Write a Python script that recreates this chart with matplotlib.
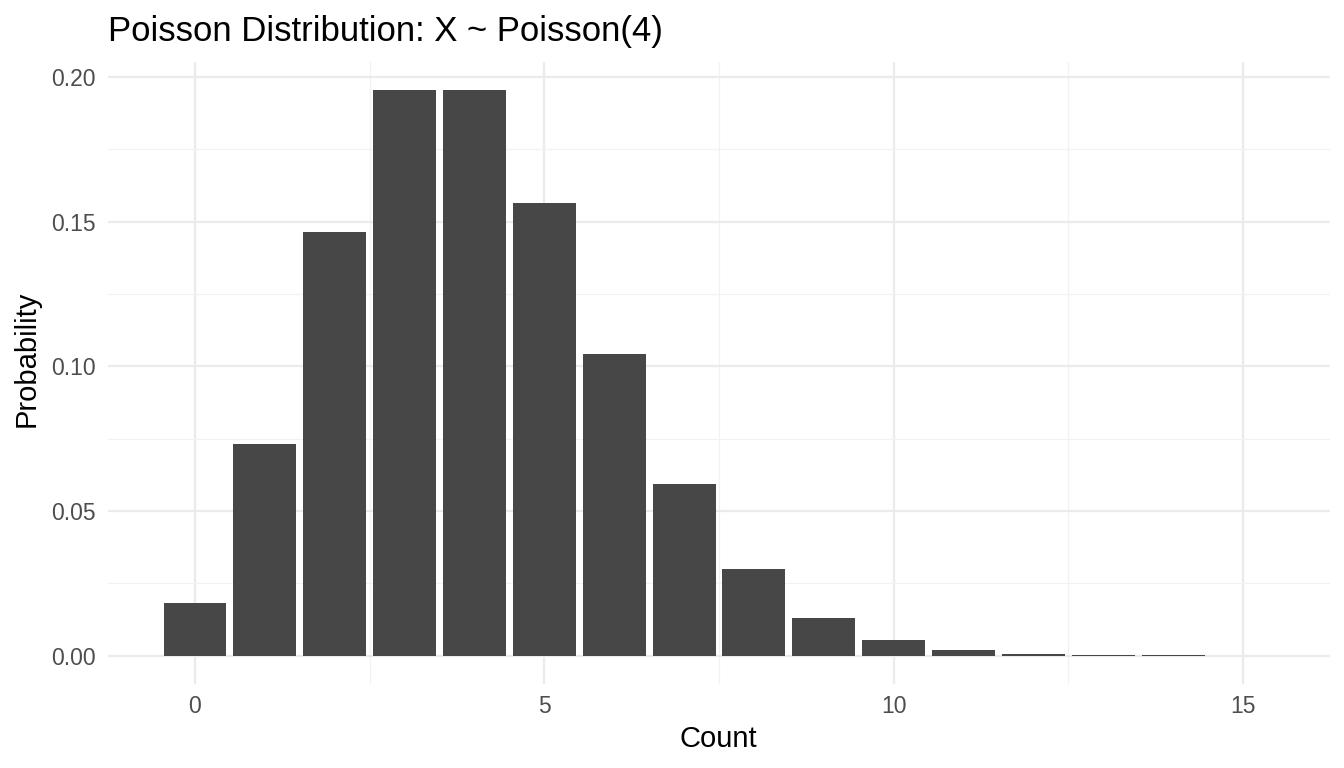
import numpy as np
import matplotlib.pyplot as plt
from matplotlib.ticker import MultipleLocator

plt.rcParams['font.family'] = ['Liberation Sans', 'DejaVu Sans']

# valores
counts = [0, 1, 2, 3, 4, 5, 6, 7, 8, 9, 10, 11, 12, 13, 14, 15]
probs = [0.0183, 0.0733, 0.1465, 0.1954, 0.1954, 0.1563, 0.1042, 0.0595,
         0.0298, 0.0132, 0.0053, 0.0019, 0.0006, 0.0002, 0.0001, 0.00002]
x_ticks = [0, 5, 10, 15]
y_ticks = [0.00, 0.05, 0.10, 0.15, 0.20]

W, H = 1344, 768
fig = plt.figure(figsize=(W / 100, H / 100), dpi=100)
ax = fig.add_axes([108 / W, 84 / H, 1222 / W, 622 / H])

ax.bar(counts, probs, width=0.9, color='#474747', zorder=3)

span_x = 15.9
ax.set_xlim(-0.45 - 0.05 * span_x, 15.45 + 0.05 * span_x)
ymax = max(probs)
ax.set_ylim(-0.05 * ymax, ymax * 1.05)

ax.set_xticks(x_ticks)
ax.set_yticks(y_ticks)
ax.set_yticklabels([f'{v:.2f}' for v in y_ticks])
ax.xaxis.set_minor_locator(MultipleLocator(2.5))
ax.yaxis.set_minor_locator(MultipleLocator(0.025))

ax.grid(which='major', color='#EBEBEB', linewidth=1.6, zorder=0)
ax.grid(which='minor', color='#F2F2F2', linewidth=0.9, zorder=0)
for s in ax.spines.values():
    s.set_visible(False)
ax.tick_params(which='both', length=0)
ax.tick_params(axis='both', labelsize=16.5, labelcolor='#4D4D4D')
ax.tick_params(axis='x', pad=8)
ax.tick_params(axis='y', pad=9)

ax.set_xlabel('Count', fontsize=21, va='center')
ax.xaxis.set_label_coords(718 / W, 1 - 739 / H, transform=fig.transFigure)
ax.set_ylabel('Probability', fontsize=21, va='center')
ax.yaxis.set_label_coords(27 / W, 1 - 359 / H, transform=fig.transFigure)

fig.text(108 / W, 1 - 32 / H, 'Poisson Distribution: X ~ Poisson(4)',
         fontsize=25, va='center', ha='left')

fig.savefig('out.png', dpi=100)
